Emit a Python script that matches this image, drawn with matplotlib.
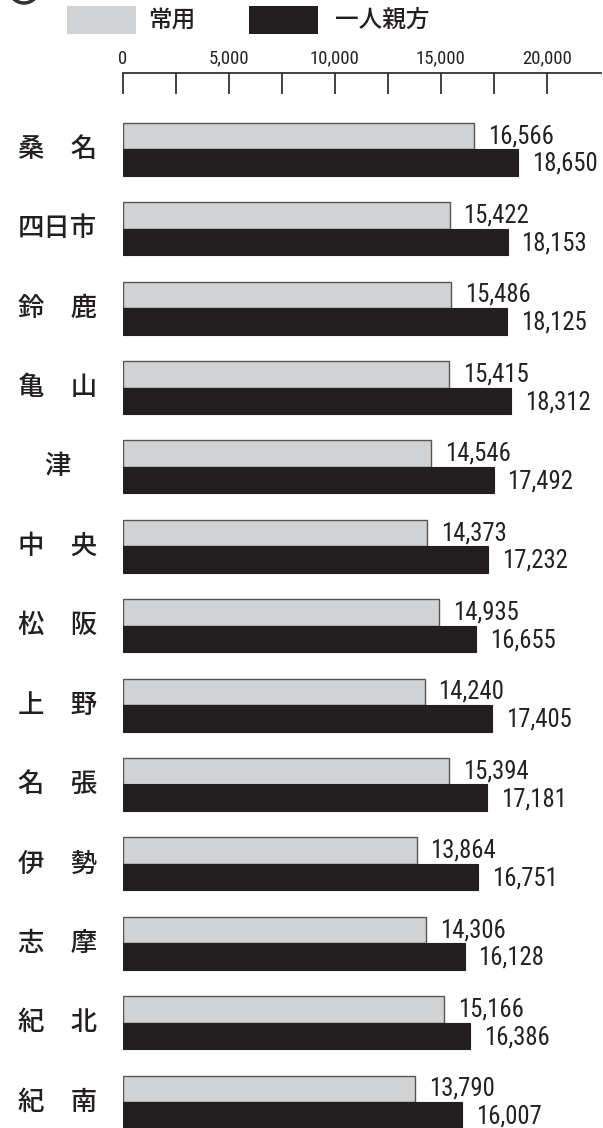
import matplotlib
matplotlib.use("Agg")
import matplotlib.pyplot as plt
from matplotlib.patches import Rectangle, Ellipse
import numpy as np

categories = ["桑　名", "四日市", "鈴　鹿", "亀　山", "津", "中　央", "松　阪",
              "上　野", "名　張", "伊　勢", "志　摩", "紀　北", "紀　南"]
jouyou = [16566, 15422, 15486, 15415, 14546, 14373, 14935, 14240, 15394, 13864, 14306, 15166, 13790]
hitori = [18650, 18153, 18125, 18312, 17492, 17232, 16655, 17405, 17181, 16751, 16128, 16386, 16007]
series_names = ["常用", "一人親方"]
major_ticks = [0, 5000, 10000, 15000, 20000]
minor_ticks = [2500, 7500, 12500, 17500]

W, H = 603, 1128
fig = plt.figure(figsize=(W / 100, H / 100), dpi=100)

gray = "#d1d2d4"
black = "#231f20"
num_font = ["Roboto Condensed", "Roboto", "DejaVu Sans"]
jp_font = ["Noto Sans CJK JP", "DejaVu Sans"]

# axes placement in pixels
ax_left, ax_right = 122.7, 601
ax_top, ax_bot = 72.7, 1128
ax = fig.add_axes([ax_left / W, 1 - ax_bot / H, (ax_right - ax_left) / W, (ax_bot - ax_top) / H])

group_px = 79.4
center0 = 149.3
ymin = (ax_top - center0) / group_px
ymax = (ax_bot - center0) / group_px
bh = 26.5 / group_px
xmax = 20000 * (ax_right - ax_left) / (546.7 - ax_left)

y = np.arange(len(categories))
ax.barh(y - bh / 2, jouyou, height=bh, color=gray, edgecolor="#555555", linewidth=1.0)
ax.barh(y + bh / 2, hitori, height=bh, color=black, edgecolor=black, linewidth=0.8)

ax.set_xlim(0, xmax)
ax.set_ylim(ymax, ymin)

for s in ["left", "right", "bottom"]:
    ax.spines[s].set_visible(False)
ax.spines["top"].set_color("#333333")
ax.spines["top"].set_linewidth(1.3)
ax.xaxis.set_ticks_position("top")
ax.set_xticks(major_ticks)
ax.set_xticklabels([f"{v:,}" for v in major_ticks], fontfamily=num_font, fontsize=13.5)
ax.set_xticks(minor_ticks, minor=True)
ax.tick_params(axis="x", which="both", direction="in", length=15.3, width=1.3,
               color="#333333", pad=3.5, labelcolor="#222222")
ax.set_yticks([])

for i in range(len(categories)):
    ax.annotate(f"{jouyou[i]:,}", (jouyou[i], i - bh / 2), xytext=(10, 0),
                textcoords="offset points", va="center", ha="left",
                fontfamily=num_font, fontsize=17.8, color="#222222")
    ax.annotate(f"{hitori[i]:,}", (hitori[i], i + bh / 2), xytext=(10, -1),
                textcoords="offset points", va="center", ha="left",
                fontfamily=num_font, fontsize=17.8, color="#222222")
    ax.text(-65.2 / (ax_right - ax_left) * xmax, i, categories[i], ha="center", va="center",
            fontfamily=jp_font, fontsize=19, fontweight="medium", color="#231f20",
            clip_on=False)

# legend
def px(xp, yp):
    return (xp / W, 1 - yp / H)

fig.patches.append(Rectangle(px(67, 34), 69 / W, 28 / H, transform=fig.transFigure,
                             facecolor=gray, edgecolor="none"))
fig.patches.append(Rectangle(px(249, 34), 69 / W, 28 / H, transform=fig.transFigure,
                             facecolor=black, edgecolor="none"))
fig.text(*px(148, 20), series_names[0], fontfamily=jp_font, fontsize=17,
         fontweight="medium", va="center", ha="left", color="#231f20")
fig.text(*px(335, 20), series_names[1], fontfamily=jp_font, fontsize=17,
         fontweight="medium", va="center", ha="left", color="#231f20")

# partial circled marker at top-left (cropped)
fig.patches.append(Ellipse(px(24, -12), 30 / W, 30 / H, transform=fig.transFigure,
                           facecolor="none", edgecolor="#333333", linewidth=2.5))

fig.savefig("out.png", dpi=100)
